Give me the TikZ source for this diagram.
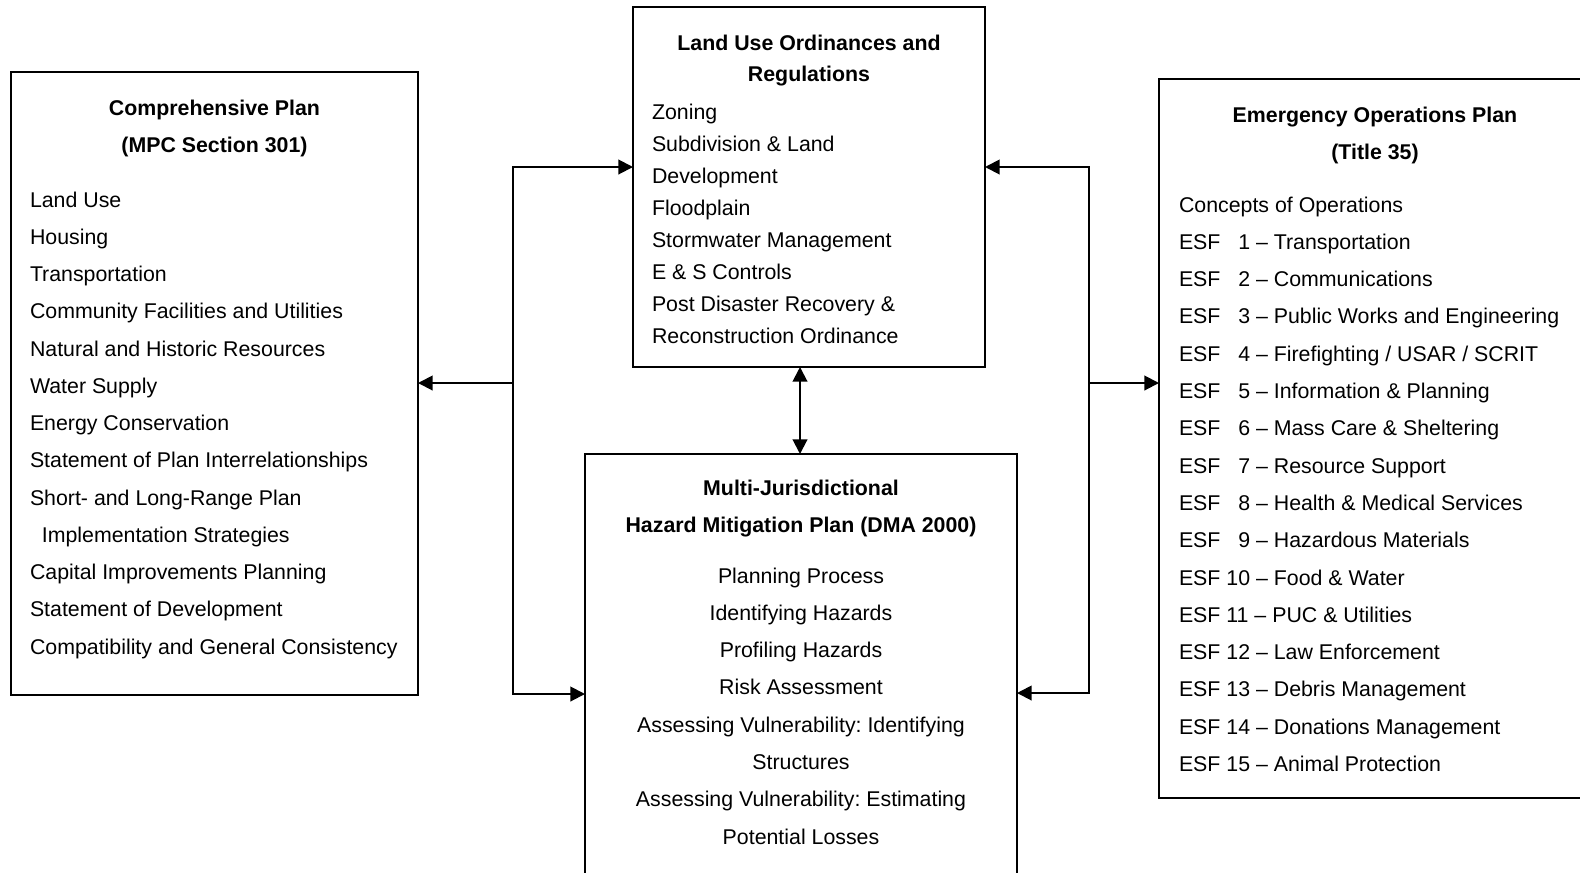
\documentclass[tikz,border=0pt]{standalone}
\usepackage{fontspec}
\setmainfont{Liberation Sans}
\usetikzlibrary{arrows.meta}
\newcommand{\ESFx}[1]{ESF\ \hphantom{0}#1}
\frenchspacing
\begin{document}
\begin{tikzpicture}[x=0.75pt,y=-0.75pt,
  box/.style={draw, line width=1.5pt, inner sep=0pt, outer sep=0pt},
  txt/.style={inner sep=0pt, outer sep=0pt, font=\fontsize{16}{19}\selectfont},
  ttl/.style={inner sep=0pt, outer sep=0pt, font=\fontsize{16}{19}\selectfont\bfseries, anchor=base},
  itm/.style={txt, anchor=base west},
  ctr/.style={txt, anchor=base},
  link/.style={line width=1.5pt},
  arr/.style={link, -{Triangle[length=11pt,width=11pt]}},
  dbl/.style={link, {Triangle[length=11pt,width=11pt]}-{Triangle[length=11pt,width=11pt]}},
]
\useasboundingbox (0,0) rectangle (1580,872);
\fill[white] (0,0) rectangle (1580,872);
\clip (0,0) rectangle (1580,872);

% boxes
\node[box, minimum width=305.25pt, minimum height=467.25pt] (cp) at (214.5,383.5) {};
\node[box, minimum width=264pt, minimum height=270pt] (lu) at (809,187) {};
\node[box, minimum width=324pt, minimum height=334.5pt] (hm) at (801,677) {};
\node[box, minimum width=324pt, minimum height=539.25pt] (eo) at (1375,438.5) {};

% Comprehensive Plan
\node[ttl] (cpt1) at (214.5,115) {Comprehensive Plan};
\node[ttl] (cpt2) at (214.5,152) {(MPC Section 301)};
\foreach \t [count=\i from 0] in {Land Use, Housing, Transportation,
  Community Facilities and Utilities, Natural and Historic Resources,
  Water Supply, Energy Conservation, Statement of Plan Interrelationships,
  Short- and Long-Range Plan, {\ \ Implementation Strategies},
  Capital Improvements Planning, Statement of Development,
  Compatibility and General Consistency}
  \node[itm] (cpi\i) at (30,{207+37.25*\i}) {\t};

% Land Use Ordinances
\node[ttl] (lut1) at (809,50) {Land Use Ordinances and};
\node[ttl] (lut2) at (809,81) {Regulations};
\foreach \t [count=\i from 0] in {Zoning, Subdivision \& Land, Development,
  Floodplain, Stormwater Management, E \& S Controls,
  Post Disaster Recovery \&, Reconstruction Ordinance}
  \node[itm] (lui\i) at (652,{119.5+32*\i}) {\t};

% Hazard Mitigation Plan
\node[ttl] (hmt1) at (801,495) {Multi-Jurisdictional};
\node[ttl] (hmt2) at (801,532) {Hazard Mitigation Plan (DMA 2000)};
\foreach \t [count=\i from 0] in {Planning Process, Identifying Hazards,
  Profiling Hazards, Risk Assessment, Assessing Vulnerability: Identifying,
  Structures, Assessing Vulnerability: Estimating, Potential Losses}
  \node[ctr] (hmi\i) at (801,{583+37.3*\i}) {\t};

% Emergency Operations Plan
\node[ttl] (eot1) at (1375,122) {Emergency Operations Plan};
\node[ttl] (eot2) at (1375,159) {(Title 35)};
\foreach \t [count=\i from 0] in {Concepts of Operations,
  \ESFx{1} – Transportation, \ESFx{2} – Communications,
  \ESFx{3} – Public Works and Engineering, \ESFx{4} – Firefighting / USAR / SCRIT,
  \ESFx{5} – Information \& Planning, \ESFx{6} – Mass Care \& Sheltering,
  \ESFx{7} – Resource Support, \ESFx{8} – Health \& Medical Services,
  \ESFx{9} – Hazardous Materials, ESF 10 – Food \& Water,
  ESF 11 – PUC \& Utilities, ESF 12 – Law Enforcement,
  ESF 13 – Debris Management, ESF 14 – Donations Management,
  ESF 15 – Animal Protection}
  \node[itm] (eoi\i) at (1179,{212+37.3*\i}) {\t};

% connectors
\coordinate (lt) at (513,167);
\coordinate (lm) at (513,383);
\coordinate (lb) at (513,694);
\coordinate (rt) at (1089,167);
\coordinate (rm) at (1089,383);
\coordinate (rb) at (1089,693);
\coordinate (vx) at (800,0);

\draw[arr] (lb) -- (lt) -- (lt -| lu.west);
\draw[arr] (lt) -- (lb) -- (lb -| hm.west);
\draw[arr] (lm) -- (lm -| cp.east);

\draw[arr] (rb) -- (rt) -- (rt -| lu.east);
\draw[arr] (rt) -- (rb) -- (rb -| hm.east);
\draw[arr] (rm) -- (rm -| eo.west);

\draw[dbl] (lu.south -| vx) -- (hm.north -| vx);
\end{tikzpicture}
\end{document}
